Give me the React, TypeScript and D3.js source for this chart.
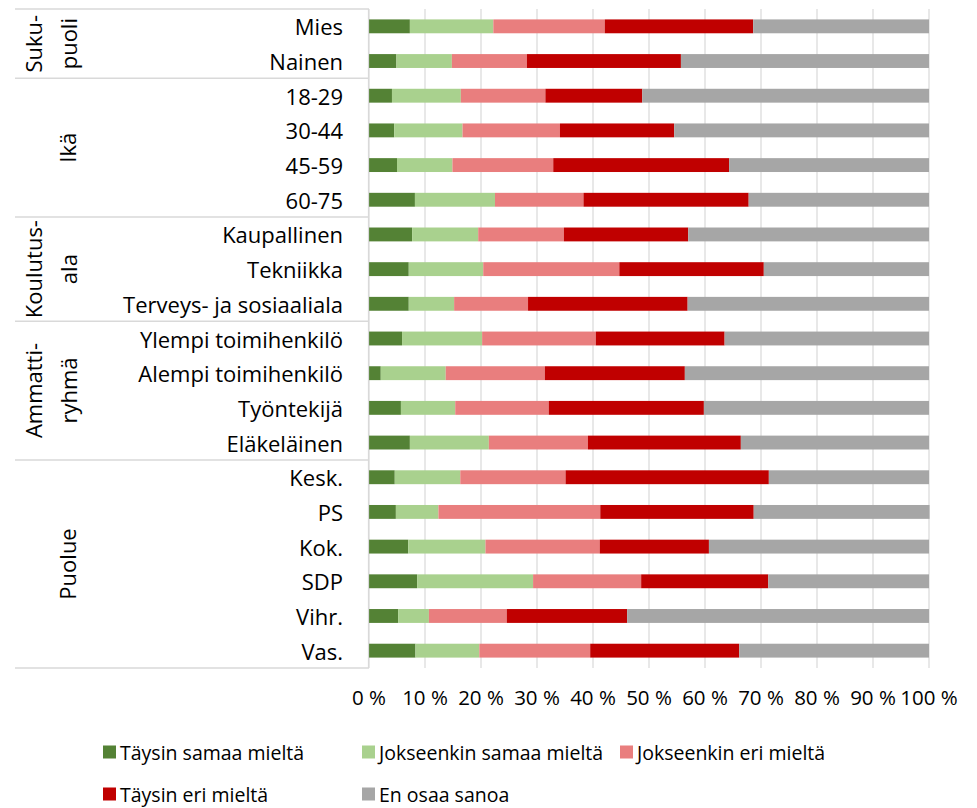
import React, { useEffect, useRef } from "react";
import * as d3 from "d3";

// categories, top to bottom
const categories = [
  "Mies", "Nainen",
  "18-29", "30-44", "45-59", "60-75",
  "Kaupallinen", "Tekniikka", "Terveys- ja sosiaaliala",
  "Ylempi toimihenkilö", "Alempi toimihenkilö", "Työntekijä", "Eläkeläinen",
  "Kesk.", "PS", "Kok.", "SDP", "Vihr.", "Vas.",
];

// group label lines + how many categories each group covers
const groupLines = [["Suku-", "puoli"], ["Ikä"], ["Koulutus-", "ala"], ["Ammatti-", "ryhmä"], ["Puolue"]];
const groupSizes = [2, 4, 3, 4, 6];

const seriesNames = [
  "Täysin samaa mieltä",
  "Jokseenkin samaa mieltä",
  "Jokseenkin eri mieltä",
  "Täysin eri mieltä",
  "En osaa sanoa",
];

// percentages per category
const taysinSamaa = [7.3, 4.9, 4.1, 4.5, 5.0, 8.2, 7.7, 7.1, 7.1, 5.9, 2.1, 5.7, 7.3, 4.6, 4.8, 7.0, 8.6, 5.2, 8.3];
const jokseenkinSamaa = [14.9, 9.9, 12.3, 12.2, 9.9, 14.3, 11.8, 13.3, 8.1, 14.3, 11.6, 9.7, 14.1, 11.7, 7.6, 13.8, 20.7, 5.5, 11.4];
const jokseenkinEri = [19.9, 13.4, 15.1, 17.4, 18.0, 15.8, 15.3, 24.3, 13.2, 20.3, 17.7, 16.7, 17.7, 18.8, 28.9, 20.4, 19.3, 13.9, 19.8];
const taysinEri = [26.5, 27.5, 17.3, 20.4, 31.4, 29.5, 22.2, 25.8, 28.5, 23.0, 25.0, 27.7, 27.3, 36.3, 27.4, 19.5, 22.7, 21.5, 26.6];
const enOsaa = [31.4, 44.3, 51.2, 45.5, 35.7, 32.2, 43.0, 29.5, 43.1, 36.5, 43.6, 40.2, 33.6, 28.6, 31.4, 39.3, 28.7, 53.9, 33.9];

const xTicks = [0, 10, 20, 30, 40, 50, 60, 70, 80, 90, 100];
const colors = ["#548235", "#a9d18e", "#e97e7e", "#c00000", "#a6a6a6"];

const W = 977;
const H = 808;
const FONT = "'Open Sans', sans-serif";

const App = () => {
  const ref = useRef<SVGSVGElement>(null);

  useEffect(() => {
    const svg = d3.select(ref.current);
    svg.selectAll("*").remove();

    const left = 369, right = 929, top = 9, bottom = 668;

    const x = d3.scaleLinear().domain([0, 100]).range([left, right]);
    const y = d3
      .scaleBand()
      .domain(categories)
      .range([top, bottom])
      .paddingInner(0.6)
      .paddingOuter(0.3);
    const step = y.step();

    const rows = categories.map((c, i) => ({
      cat: c,
      Taysin: taysinSamaa[i],
      JokSamaa: jokseenkinSamaa[i],
      JokEri: jokseenkinEri[i],
      TaysinEri: taysinEri[i],
      EnOsaa: enOsaa[i],
    }));
    const keys = ["Taysin", "JokSamaa", "JokEri", "TaysinEri", "EnOsaa"];
    const stacked = d3.stack<any>().keys(keys)(rows);

    // grid lines
    svg
      .append("g")
      .selectAll("line")
      .data(xTicks)
      .join("line")
      .attr("x1", (d) => x(d))
      .attr("x2", (d) => x(d))
      .attr("y1", top)
      .attr("y2", bottom)
      .attr("stroke", "#d9d9d9")
      .attr("stroke-width", 1.2);

    // bars
    svg
      .append("g")
      .selectAll("g")
      .data(stacked)
      .join("g")
      .attr("fill", (_, i) => colors[i])
      .selectAll("rect")
      .data((d) => d)
      .join("rect")
      .attr("x", (d) => x(d[0]))
      .attr("y", (d) => y(d.data.cat)!)
      .attr("width", (d) => x(d[1]) - x(d[0]))
      .attr("height", y.bandwidth());

    // category axis line
    svg
      .append("line")
      .attr("x1", left - 0.5)
      .attr("x2", left - 0.5)
      .attr("y1", top)
      .attr("y2", bottom)
      .attr("stroke", "#d9d9d9")
      .attr("stroke-width", 1.2);

    // group separators
    const bounds = [0, ...d3.cumsum(groupSizes)];
    svg
      .append("g")
      .selectAll("line")
      .data(bounds)
      .join("line")
      .attr("x1", 15)
      .attr("x2", left)
      .attr("y1", (k) => top + step * k)
      .attr("y2", (k) => top + step * k)
      .attr("stroke", "#d9d9d9")
      .attr("stroke-width", 1.5);

    // category labels
    svg
      .append("g")
      .selectAll("text")
      .data(categories)
      .join("text")
      .attr("x", 343)
      .attr("y", (d) => y(d)! + y.bandwidth() / 2)
      .attr("text-anchor", "end")
      .attr("dominant-baseline", "central")
      .attr("font-family", FONT)
      .attr("font-size", 22)
      .attr("fill", "#000")
      .text((d) => d);

    // group labels, rotated
    const groupG = svg.append("g");
    groupLines.forEach((lines, gi) => {
      const yc = top + step * (bounds[gi] + bounds[gi + 1]) / 2;
      const baseX = lines.length === 2 ? [42, 77] : [76];
      lines.forEach((t, li) => {
        groupG
          .append("text")
          .attr("transform", `translate(${baseX[li]},${yc}) rotate(-90)`)
          .attr("text-anchor", "middle")
          .attr("font-family", FONT)
          .attr("font-size", 22)
          .attr("fill", "#000")
          .text(t);
      });
    });

    // x tick labels
    svg
      .append("g")
      .selectAll("text")
      .data(xTicks)
      .join("text")
      .attr("x", (d) => x(d))
      .attr("y", 697)
      .attr("text-anchor", "middle")
      .attr("dominant-baseline", "central")
      .attr("font-family", FONT)
      .attr("font-size", 20.5)
      .attr("fill", "#000")
      .text((d) => `${d} %`);

    // legend
    const legendPos = [
      [103, 752], [362, 752], [620, 752],
      [103, 794], [362, 794],
    ];
    const lg = svg
      .append("g")
      .selectAll("g")
      .data(seriesNames)
      .join("g")
      .attr("transform", (_, i) => `translate(${legendPos[i][0]},${legendPos[i][1]})`);
    lg.append("rect")
      .attr("x", 0)
      .attr("y", -6.5)
      .attr("width", 13)
      .attr("height", 13)
      .attr("fill", (_, i) => colors[i]);
    lg.append("text")
      .attr("x", 17)
      .attr("y", 0)
      .attr("dominant-baseline", "central")
      .attr("font-family", FONT)
      .attr("font-size", 19.5)
      .attr("fill", "#000")
      .text((d) => d);
  });

  return (
    <svg
      ref={ref}
      width={W}
      height={H}
      style={{ position: "absolute", left: 0, top: 0, background: "#fff" }}
    ></svg>
  );
};

export default App;
